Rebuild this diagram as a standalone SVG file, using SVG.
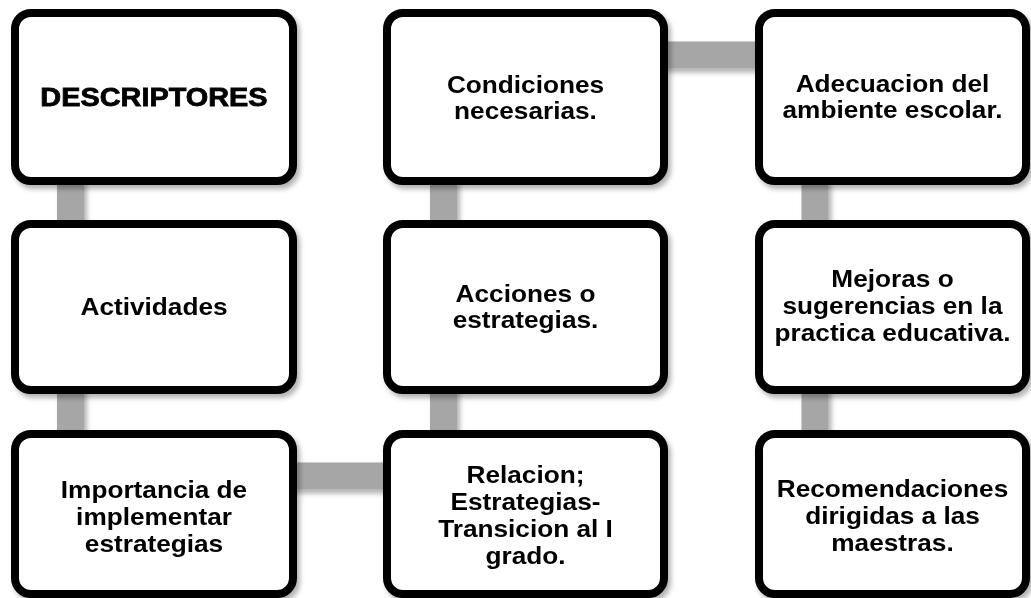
<svg xmlns="http://www.w3.org/2000/svg" width="1031" height="598" viewBox="0 0 1031 598">
<defs>
<filter id="sh" x="-10%" y="-10%" width="125%" height="130%">
<feDropShadow dx="3" dy="4" stdDeviation="2.5" flood-color="#000" flood-opacity="0.3"/>
</filter>
</defs>
<style>
.box{fill:#fff;stroke:#000;stroke-width:8;}
.conn{stroke:#a6a6a6;stroke-width:27;fill:none;}
.t{font-family:"Liberation Sans",Arial,sans-serif;font-weight:bold;font-size:24.5px;fill:#000;text-anchor:middle;}
.big{font-size:26.5px;stroke:#000;stroke-width:0.8px;}
</style>
<rect width="1031" height="598" fill="#fff"/>
<g id="connectors" filter="url(#sh)">
<line class="conn" x1="70.5" y1="180" x2="70.5" y2="226"/>
<line class="conn" x1="70.5" y1="388" x2="70.5" y2="436"/>
<line class="conn" x1="290" y1="476" x2="390" y2="476"/>
<line class="conn" x1="443.5" y1="388" x2="443.5" y2="436"/>
<line class="conn" x1="443.5" y1="180" x2="443.5" y2="226"/>
<line class="conn" x1="662" y1="55" x2="762" y2="55"/>
<line class="conn" x1="815" y1="180" x2="815" y2="226"/>
<line class="conn" x1="815" y1="388" x2="815" y2="436"/>
</g>
<g id="n1" filter="url(#sh)">
<rect class="box" x="15" y="13" width="278" height="168" rx="16"/>
<g transform="translate(154 0) scale(1.09 1)"><text class="t big" x="0" y="106">DESCRIPTORES</text></g>
</g>
<g id="n2" filter="url(#sh)">
<rect class="box" x="15" y="224" width="278" height="166" rx="16"/>
<g transform="translate(154 0) scale(1.07 1)"><text class="t" x="0" y="315">Actividades</text></g>
</g>
<g id="n3" filter="url(#sh)">
<rect class="box" x="15" y="434" width="278" height="160" rx="16"/>
<g transform="translate(154 0) scale(1.07 1)"><text class="t" x="0" y="498">Importancia de</text><text class="t" x="0" y="525">implementar</text><text class="t" x="0" y="552">estrategias</text></g>
</g>
<g id="n4" filter="url(#sh)">
<rect class="box" x="387" y="434" width="277" height="160" rx="16"/>
<g transform="translate(525.5 0) scale(1.07 1)"><text class="t" x="0" y="483">Relacion;</text><text class="t" x="0" y="510">Estrategias-</text><text class="t" x="0" y="537">Transicion al I</text><text class="t" x="0" y="564">grado.</text></g>
</g>
<g id="n5" filter="url(#sh)">
<rect class="box" x="387" y="224" width="277" height="166" rx="16"/>
<g transform="translate(525.5 0) scale(1.07 1)"><text class="t" x="0" y="302">Acciones o</text><text class="t" x="0" y="328">estrategias.</text></g>
</g>
<g id="n6" filter="url(#sh)">
<rect class="box" x="387" y="13" width="277" height="168" rx="16"/>
<g transform="translate(525.5 0) scale(1.07 1)"><text class="t" x="0" y="93">Condiciones</text><text class="t" x="0" y="119">necesarias.</text></g>
</g>
<g id="n7" filter="url(#sh)">
<rect class="box" x="759" y="13" width="267" height="168" rx="16"/>
<g transform="translate(892.5 0) scale(1.07 1)"><text class="t" x="0" y="92">Adecuacion del</text><text class="t" x="0" y="118">ambiente escolar.</text></g>
</g>
<g id="n8" filter="url(#sh)">
<rect class="box" x="759" y="224" width="267" height="166" rx="16"/>
<g transform="translate(892.5 0) scale(1.07 1)"><text class="t" x="0" y="287">Mejoras o</text><text class="t" x="0" y="314">sugerencias en la</text><text class="t" x="0" y="341">practica educativa.</text></g>
</g>
<g id="n9" filter="url(#sh)">
<rect class="box" x="759" y="434" width="267" height="160" rx="16"/>
<g transform="translate(892.5 0) scale(1.07 1)"><text class="t" x="0" y="497">Recomendaciones</text><text class="t" x="0" y="524">dirigidas a las</text><text class="t" x="0" y="551">maestras.</text></g>
</g>
</svg>
